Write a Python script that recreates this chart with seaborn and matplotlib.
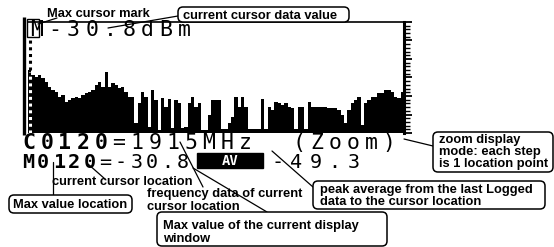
import numpy as np
import pandas as pd
import matplotlib
matplotlib.use("Agg")
import matplotlib.pyplot as plt
import seaborn as sns
from matplotlib.patches import FancyBboxPatch, Rectangle
from matplotlib.ticker import MultipleLocator

# logged levels on the LCD, left to right (screen dots above the baseline)
levels_a = [63, 58, 56, 58, 55, 51, 46, 43, 41, 36, 38, 31, 33, 35, 36, 35, 38, 40, 41, 43,
            48, 51, 46, 61, 46, 50, 48]
levels_b = [45, 46, 41, 36, 36, 10, 30, 41, 36, 6, 43, 33, 3, 35, 26, 34, 5, 33, 30, 5,
            6, 30, 36, 26, 30, 3, 3, 18, 33, 33]
levels_c = [33, 4, 4, 10, 16, 36, 26, 36, 26, 4, 4, 4, 4, 34, 4, 26, 23, 31, 30, 28,
            30, 26, 25, 4, 26, 26, 4, 31, 26, 26]
levels_d = [26, 26, 26, 25, 25, 25, 23, 18, 10, 23, 30, 33, 36, 8, 30, 33, 36, 36, 40, 40,
            43, 43, 41, 36, 35, 41]
levels = levels_a + levels_b + levels_c + levels_d

# LCD readouts
peak_text = "M-30.8dBm"
cursor_row = "C0120=1915MHz  (Zoom)"
max_row = "M0120=-30.8"
avg_label = "AV"
avg_value = "-49.3"

W, H = 554, 247
sns.set_theme(style="white")
plt.rcParams['font.family'] = ['Liberation Sans', 'DejaVu Sans']

fig = plt.figure(figsize=(W / 100, H / 100), dpi=100)
fig.patch.set_facecolor('white')


def frame(x0, y0, x1, y1):
    # pixel box (y down) -> figure fraction
    return [x0 / W, 1 - y1 / H, (x1 - x0) / W, (y1 - y0) / H]


# the bar display
ax = fig.add_axes(frame(28, 22, 404, 133))
df = pd.DataFrame({'step': np.arange(len(levels)), 'level': levels})
sns.barplot(data=df, x='step', y='level', color='black', width=1.0, saturation=1,
            linewidth=0, errorbar=None, ax=ax)
ax.set_xlim(-0.5, len(levels) - 0.5)
ax.set_ylim(0, 111)
ax.set_xlabel('')
ax.set_ylabel('')
ax.set_xticks([])

# max marker: dotted line through the first bar
ax.vlines(0, levels[0], 96, color='black', lw=2.2, linestyles=(0, (1, 1.2)))
ax.vlines(0, 0, levels[0] - 2, color='white', lw=2.2, linestyles=(0, (1, 1.2)))

for side in ['left', 'bottom']:
    ax.spines[side].set_visible(False)
ax.spines['top'].set_color('black')
ax.spines['top'].set_linewidth(1.2)
ax.spines['top'].set_linestyle((0, (1.5, 1)))
ax.spines['right'].set_color('black')
ax.spines['right'].set_linewidth(2.2)
ax.yaxis.tick_right()
ax.yaxis.set_major_locator(MultipleLocator(18.5))
ax.yaxis.set_minor_locator(MultipleLocator(3.7))
ax.tick_params(axis='y', which='major', length=6, width=1.3, color='black',
               direction='out', right=True, left=False, labelright=False)
ax.tick_params(axis='y', which='minor', length=4, width=1, color='black',
               direction='out', right=True, left=False)

# overlay in screen pixels for readouts and callouts
ov = fig.add_axes([0, 0, 1, 1])
ov.set_xlim(0, W)
ov.set_ylim(H, 0)
ov.axis('off')
ov.patch.set_alpha(0)

ov.plot([23.5, 23.5], [17, 135], color='black', lw=2.4, solid_capstyle='butt')


def lcd(x0, base, s, pitch, size, weight='normal', color='black'):
    for i, ch in enumerate(s):
        ov.text(x0 + pitch * (i + 0.5), base, ch, ha='center', va='baseline',
                family='DejaVu Sans Mono', fontsize=size, fontweight=weight, color=color)


lcd(27, 36, peak_text, 18.5, 15.5)
ov.add_patch(Rectangle((27, 19), 12, 18, fill=False, lw=1, ec='black'))

lcd(20, 148.5, cursor_row[:5], 18, 15.5, 'bold')
lcd(20 + 5 * 18, 148.5, cursor_row[5:], 18, 15.5)

lcd(20, 167.5, max_row[:5], 15.5, 14.5, 'bold')
lcd(20 + 5 * 15.5, 167.5, max_row[5:], 15.5, 14.5)
ov.add_patch(Rectangle((197, 153), 66, 15, fc='black', ec='black'))
ov.text(230, 160.5, avg_label, ha='center', va='center', family='DejaVu Sans Mono',
        fontsize=10, fontweight='bold', color='white')
lcd(268, 167.5, avg_value, 19, 14.5)


def note(x, base, s):
    ov.text(x, base, s, fontsize=9.3, fontweight='bold', color='black',
            ha='left', va='baseline', zorder=4)


def rbox(x0, y0, x1, y1):
    ov.add_patch(FancyBboxPatch((x0, y0), x1 - x0, y1 - y0,
                                boxstyle='round,pad=0,rounding_size=5',
                                fc='white', ec='black', lw=1.1, zorder=3))


def lead(x0, y0, x1, y1):
    ov.plot([x0, x1], [y0, y1], color='black', lw=0.9, zorder=2)


note(47, 17, "Max cursor mark")
lead(57, 18, 38, 24)

rbox(178, 7, 349, 22)
note(183, 19, "current cursor data value")
lead(178, 16, 108, 28)

rbox(433, 132, 553, 172)
note(439, 143, "zoom display")
note(439, 155, "mode: each step")
note(439, 167, "is 1 location point")
lead(404, 139, 433, 146)

rbox(313, 181, 545, 209)
note(320, 193, "peak average from the last Logged")
note(320, 205, "data to the cursor location")
lead(313, 187, 272, 151)

rbox(157, 212, 387, 246)
note(163, 229, "Max value of the current display")
note(163, 242, "window")
lead(267, 212, 193, 168)

note(147, 197, "frequency data of current")
note(147, 210, "cursor location")
lead(203, 187, 180, 142)

note(52, 185, "current cursor location")
lead(105, 179, 88, 164)

rbox(9, 195, 132, 213)
note(13, 208, "Max value location")
lead(53, 162, 53, 195)

fig.savefig("out.png", dpi=100, facecolor='white')
